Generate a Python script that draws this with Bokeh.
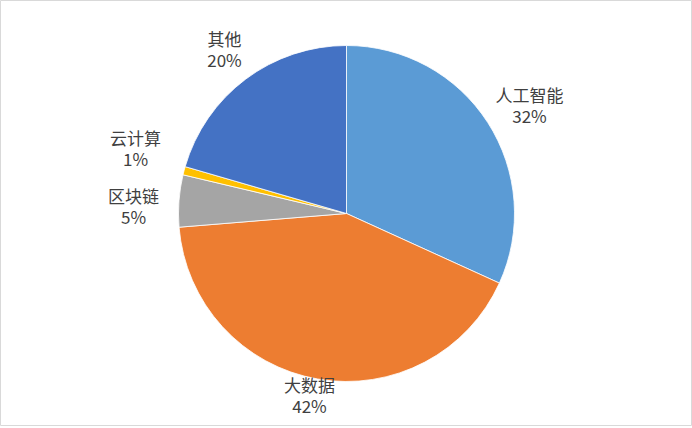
import math
from bokeh.plotting import figure
from bokeh.models import Range1d, ColumnDataSource
from bokeh.core.properties import value
from bokeh.embed import file_html
from bokeh.resources import INLINE

# ---- data ----
categories = ["人工智能", "大数据", "区块链", "云计算", "其他"]
shares = [31.8, 41.9, 5.0, 0.8, 20.5]
pct_labels = ["32%", "42%", "5%", "1%", "20%"]
colors = ["#5B9BD5", "#ED7D31", "#A5A5A5", "#FFC000", "#4472C4"]

# label anchor positions (pixels from top-left of chart)
label_px = [529, 309, 133, 135, 224]
label_py = [94, 384, 195, 137, 38]

W, H = 692, 426
CX, CY, R = 346, 213, 168

total = sum(shares)
starts, ends = [], []
cum = 0.0
for s in shares:
    starts.append(math.pi / 2 - 2 * math.pi * cum / total)
    cum += s
    ends.append(math.pi / 2 - 2 * math.pi * cum / total)

src = ColumnDataSource(dict(cat=categories, start=starts, end=ends, color=colors,
                            x=[CX] * len(shares), y=[H - CY] * len(shares)))

p = figure(width=W, height=H, output_backend="svg", toolbar_location=None,
           x_range=Range1d(0, W), y_range=Range1d(0, H),
           x_axis_location=None, y_axis_location=None, min_border=0)
p.grid.visible = False
p.outline_line_color = "#d9d9d9"
p.outline_line_width = 1
p.background_fill_color = "white"
p.border_fill_color = "white"

p.wedge(x="x", y="y", radius=R, start_angle="start", end_angle="end",
        direction="clock", fill_color="color", line_color="white", line_width=0.8,
        source=src)

name_src = ColumnDataSource(dict(x=label_px, y=[H - v for v in label_py], t=categories))
pct_src = ColumnDataSource(dict(x=label_px, y=[H - v - 21 for v in label_py], t=pct_labels))
for s in (name_src, pct_src):
    p.text(x="x", y="y", text="t", source=s, text_align="center", text_baseline="middle",
           text_font=value("Noto Sans CJK SC"), text_font_size="17px", text_color="#404040")

open("out.html", "w").write(file_html(p, INLINE))
